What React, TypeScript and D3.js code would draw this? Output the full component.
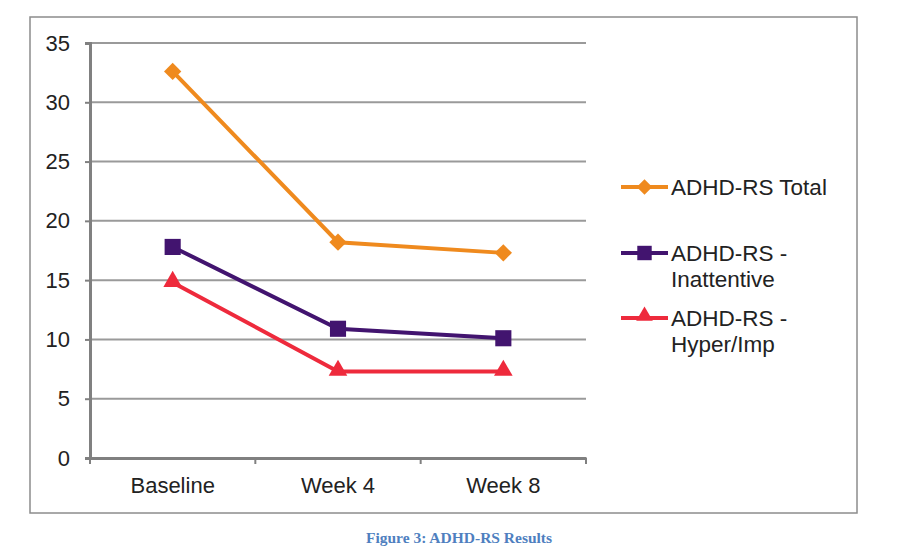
import { useEffect, useRef } from 'react';
import * as d3 from 'd3';

const categories = ['Baseline', 'Week 4', 'Week 8'];
const yTicks = [0, 5, 10, 15, 20, 25, 30, 35];

const totalValues = [32.6, 18.2, 17.3];
const inattentiveValues = [17.8, 10.9, 10.1];
const hyperValues = [14.8, 7.3, 7.3];

const seriesNames = [['ADHD-RS Total'], ['ADHD-RS -', 'Inattentive'], ['ADHD-RS -', 'Hyper/Imp']];
const seriesColors = ['#ef8a1e', '#42146f', '#ee2a3c'];

export default function App() {
  const svgRef = useRef<SVGSVGElement>(null);

  useEffect(() => {
    if (!svgRef.current) return;
    const width = 900;
    const height = 556;
    const svg = d3.select(svgRef.current).attr('width', width).attr('height', height);
    svg.selectAll('*').remove();

    const font = 'Liberation Sans, Arial, sans-serif';

    // outer frame
    svg
      .append('rect')
      .attr('x', 30)
      .attr('y', 17)
      .attr('width', 827)
      .attr('height', 496)
      .attr('fill', 'white')
      .attr('stroke', '#8c8c8c')
      .attr('stroke-width', 1.5);

    const margin = { left: 90, top: 43, right: 586, bottom: 458 };

    const x = d3.scaleBand().domain(categories).range([margin.left, margin.right]);
    const y = d3.scaleLinear().domain([0, 35]).range([margin.bottom, margin.top]);

    // gridlines
    svg
      .append('g')
      .selectAll('line')
      .data(yTicks.filter((t) => t > 0))
      .enter()
      .append('line')
      .attr('x1', margin.left)
      .attr('x2', margin.right)
      .attr('y1', (d) => y(d))
      .attr('y2', (d) => y(d))
      .attr('stroke', '#9a9a9a')
      .attr('stroke-width', 2);

    // y axis
    const yAxis = svg
      .append('g')
      .attr('transform', `translate(${margin.left},0)`)
      .call(d3.axisLeft(y).tickValues(yTicks).tickSize(5).tickPadding(15));
    yAxis.select('.domain').attr('stroke', '#808080').attr('stroke-width', 3);
    yAxis.selectAll('.tick line').attr('stroke', '#808080').attr('stroke-width', 2);
    yAxis
      .selectAll('.tick text')
      .attr('fill', '#222')
      .style('font-family', font)
      .style('font-size', '22px');

    // x axis
    const xAxis = svg
      .append('g')
      .attr('transform', `translate(0,${margin.bottom})`)
      .call(d3.axisBottom(x).tickSize(0).tickPadding(19));
    xAxis.select('.domain').attr('stroke', '#808080').attr('stroke-width', 3);
    xAxis
      .selectAll('.tick text')
      .attr('fill', '#222')
      .style('font-family', font)
      .style('font-size', '22px');
    // category boundary ticks
    svg
      .append('g')
      .selectAll('line')
      .data([...categories.map((c) => x(c) ?? 0), margin.right])
      .enter()
      .append('line')
      .attr('x1', (d) => d)
      .attr('x2', (d) => d)
      .attr('y1', margin.bottom)
      .attr('y2', margin.bottom + 6)
      .attr('stroke', '#808080')
      .attr('stroke-width', 2);

    const allSeries = [totalValues, inattentiveValues, hyperValues];
    const cx = (i: number) => (x(categories[i]) ?? 0) + x.bandwidth() / 2;
    const line = d3
      .line<number>()
      .x((_d, i) => cx(i))
      .y((d) => y(d));

    // marker shapes: rotated square (diamond), square, triangle
    const markerPath = (s: number, scale: number) => {
      if (s === 0) return d3.symbol().type(d3.symbolSquare).size(150 * scale)();
      if (s === 1) return d3.symbol().type(d3.symbolSquare).size(260 * scale)();
      return d3.symbol().type(d3.symbolTriangle).size(150 * scale)();
    };
    const markerRotate = (s: number) => (s === 0 ? ' rotate(45)' : '');

    allSeries.forEach((vals, s) => {
      svg
        .append('path')
        .datum(vals)
        .attr('d', line)
        .attr('fill', 'none')
        .attr('stroke', seriesColors[s])
        .attr('stroke-width', 4);
      svg
        .append('g')
        .selectAll('path')
        .data(vals)
        .enter()
        .append('path')
        .attr('transform', (d, i) => `translate(${cx(i)},${y(d) + (s === 2 ? -1 : 0)})${markerRotate(s)}`)
        .attr('d', markerPath(s, 1))
        .attr('fill', seriesColors[s]);
    });

    // legend
    const legendRows = [187, 253, 318];
    seriesNames.forEach((lines, s) => {
      const ly = legendRows[s];
      const g = svg.append('g');
      g.append('line')
        .attr('x1', 621)
        .attr('x2', 668)
        .attr('y1', ly)
        .attr('y2', ly)
        .attr('stroke', seriesColors[s])
        .attr('stroke-width', 4);
      g.append('path')
        .attr('transform', `translate(644.5,${ly + (s === 2 ? -2 : 0)})${markerRotate(s)}`)
        .attr('d', markerPath(s, 0.8))
        .attr('fill', seriesColors[s]);
      lines.forEach((t, k) => {
        g.append('text')
          .attr('x', 671)
          .attr('y', ly + k * 26)
          .attr('dy', '0.35em')
          .style('font-family', font)
          .style('font-size', '22.5px')
          .attr('fill', '#222')
          .text(t);
      });
    });

    // caption
    svg
      .append('text')
      .attr('x', 459)
      .attr('y', 543)
      .attr('text-anchor', 'middle')
      .style('font-family', 'Liberation Serif, Times New Roman, serif')
      .style('font-weight', 'bold')
      .style('font-size', '15.5px')
      .attr('fill', '#4f7fbf')
      .text('Figure 3: ADHD-RS Results');
  }, []);

  return (
    <div style={{ position: 'absolute', left: 0, top: 0 }}>
      <svg ref={svgRef} style={{ display: 'block', background: 'white' }} />
    </div>
  );
}
